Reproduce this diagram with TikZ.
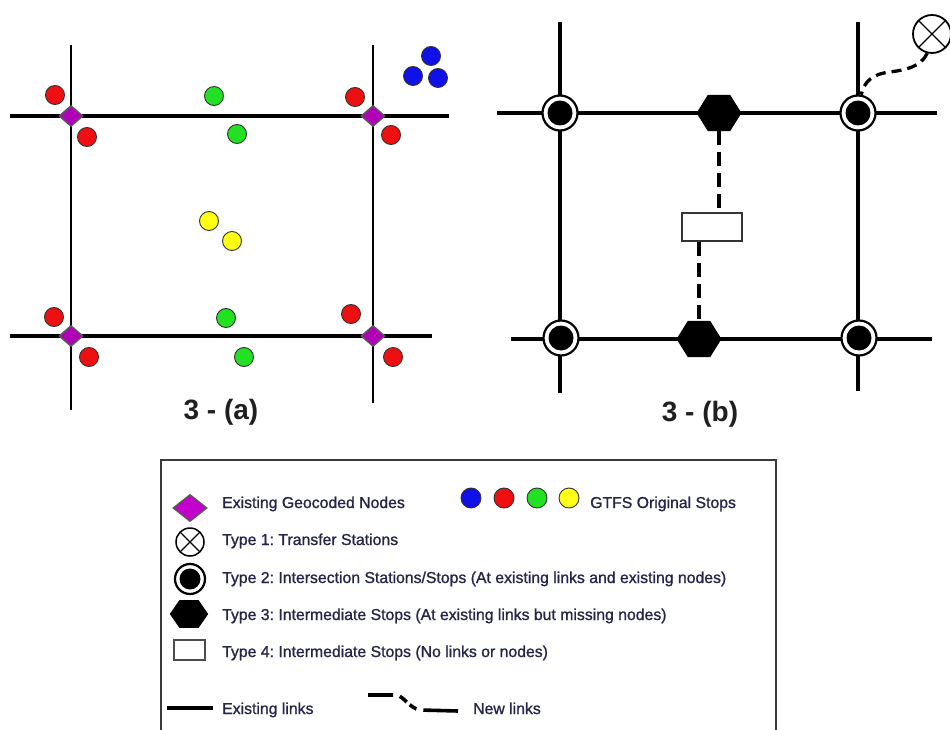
\documentclass[tikz,border=0pt]{standalone}
\usepackage{fontspec}
\setmainfont{Liberation Sans}
\newfontfamily\legfont{Liberation Sans}[FakeBold=1.1]
\usetikzlibrary{shapes.geometric}
\frenchspacing

\definecolor{txt}{HTML}{25254A}
\definecolor{gnode}{HTML}{B000B8}
\definecolor{gnodeL}{HTML}{C400CC}
\definecolor{sblue}{HTML}{1010E8}
\definecolor{sred}{HTML}{EE1010}
\definecolor{sgreen}{HTML}{22E022}
\definecolor{syellow}{HTML}{FFFF14}
\definecolor{frame}{HTML}{3A3A3A}

\tikzset{
  road/.style={line width=4pt, black},
  street/.style={line width=2.4pt, black},
  roadb/.style={line width=4.8pt, black},
  streetb/.style={line width=3.4pt, black},
  gstop/.style={circle, draw=black!80, line width=0.9pt, minimum size=19pt, inner sep=0pt},
  geonode/.style={diamond, draw=black!65, line width=1.4pt, fill=gnode, aspect=1.15,
    minimum width=24pt, minimum height=21pt, inner sep=0pt},
  type1/.style={circle, draw=black, line width=1.8pt, fill=white, inner sep=0pt,
    path picture={\draw[line width=1.2pt]
      (path picture bounding box.north west) -- (path picture bounding box.south east)
      (path picture bounding box.north east) -- (path picture bounding box.south west);}},
  type2/.style={circle, draw=black, line width=2.2pt, fill=white, inner sep=0pt,
    path picture={\fill[black] (path picture bounding box.center) circle (#1);}},
  type3/.style={regular polygon, regular polygon sides=6, fill=black, inner sep=0pt},
  type4/.style={rectangle, draw=black!80, line width=1.8pt, fill=white, inner sep=0pt},
  newlink/.style={line width=3.8pt, black, dash pattern=on 14pt off 7pt},
  newcurve/.style={line width=3.3pt, black, dash pattern=on 10pt off 6pt},
  legtext/.style={anchor=base west, text=txt, inner sep=0pt,
    font=\legfont\fontsize{15.8}{18}\selectfont},
  panellabel/.style={anchor=base, text=black!88, inner sep=0pt,
    font=\bfseries\fontsize{28}{32}\selectfont},
}

\begin{document}
\begin{tikzpicture}[x=1pt,y=-1pt]
\clip (0,0) rectangle (950,730);
\fill[white] (0,0) rectangle (950,730);

% ---------------- panel (a): road grid with geocoded nodes ----------------
\coordinate (aT1) at (10,116);  \coordinate (aT2) at (449,116);
\coordinate (aB1) at (10,336);  \coordinate (aB2) at (432,336);
\coordinate (aL1) at (71,45);   \coordinate (aL2) at (71,410);
\coordinate (aR1) at (373,45);  \coordinate (aR2) at (373,403);
\draw[street] (aL1) -- (aL2);
\draw[street] (aR1) -- (aR2);
\draw[road] (aT1) -- (aT2);
\draw[road] (aB1) -- (aB2);

\node[geonode] (gtl) at (71,116) {};
\node[geonode] (gtr) at (373,116) {};
\node[geonode] (gbl) at (71,336) {};
\node[geonode] (gbr) at (373,336) {};

% original GTFS stops
\node[gstop, fill=sred] (r1) at (55,95) {};
\node[gstop, fill=sred] (r2) at (87,137) {};
\node[gstop, fill=sred] (r3) at (355,97) {};
\node[gstop, fill=sred] (r4) at (391,135) {};
\node[gstop, fill=sred] (r5) at (54,317) {};
\node[gstop, fill=sred] (r6) at (89,357) {};
\node[gstop, fill=sred] (r7) at (351,314) {};
\node[gstop, fill=sred] (r8) at (393,357) {};
\node[gstop, fill=sgreen] (g1) at (214,96) {};
\node[gstop, fill=sgreen] (g2) at (237,134) {};
\node[gstop, fill=sgreen] (g3) at (226,318) {};
\node[gstop, fill=sgreen] (g4) at (244,357) {};
\node[gstop, fill=syellow] (y1) at (209,221) {};
\node[gstop, fill=syellow] (y2) at (232,241) {};
\node[gstop, fill=sblue] (b1) at (431,56) {};
\node[gstop, fill=sblue] (b2) at (413,76) {};
\node[gstop, fill=sblue] (b3) at (438,78) {};

\node[panellabel] (la) at (221,419) {3 - (a)};

% ---------------- panel (b): classified stations ----------------
\coordinate (bT1) at (497,113); \coordinate (bT2) at (937,113);
\coordinate (bB1) at (511,339); \coordinate (bB2) at (932,339);
\coordinate (bL1) at (560,22);  \coordinate (bL2) at (560,393);
\coordinate (bR1) at (858,22);  \coordinate (bR2) at (858,391);
\draw[streetb] (bL1) -- (bL2);
\draw[streetb] (bR1) -- (bR2);
\draw[roadb] (bT1) -- (bT2);
\draw[roadb] (bB1) -- (bB2);

\node[type2=12.5pt, minimum size=35pt] (ctl) at (560,113) {};
\node[type2=12.5pt, minimum size=35pt] (ctr) at (858,113) {};
\node[type2=12.5pt, minimum size=35pt] (cbl) at (561,338) {};
\node[type2=12.5pt, minimum size=35pt] (cbr) at (859,338) {};

\begin{scope}[shift={(719,113)}]
  \node[type3, minimum size=41.6pt, xscale=1.08] (h1) at (0,0) {};
\end{scope}
\begin{scope}[shift={(699,339)}]
  \node[type3, minimum size=41.6pt, xscale=1.08] (h2) at (0,0) {};
\end{scope}

\node[type4, minimum width=60pt, minimum height=28pt] (q1) at (712,227) {};

\draw[newlink] (h1.south) -- (h1.south |- q1.north);
\draw[newlink] (h2.north |- q1.south) -- (h2.north);

\node[type1, minimum size=38pt] (x1) at (932,34) {};
\draw[newcurve] (x1.256) .. controls (921,67) and (905,70) .. (890,72)
  .. controls (872,74) and (864,82) .. (ctr.80);

\node[panellabel] (lb) at (700,421) {3 - (b)};

% ---------------- legend ----------------
\draw[frame, line width=1.5pt] (161,745) -- (161,460) -- (776,460) -- (776,745);

\node[geonode, fill=gnodeL, aspect=1.3, minimum width=34pt, minimum height=27pt] (k1) at (190,508) {};
\node[legtext] (t1) at (222,508) {Existing Geocoded Nodes};

\node[gstop, fill=sblue, minimum size=20pt] (k2) at (471,498) {};
\node[gstop, fill=sred, minimum size=20pt] (k3) at (504,498) {};
\node[gstop, fill=sgreen, minimum size=20pt] (k4) at (537,498) {};
\node[gstop, fill=syellow, minimum size=20pt] (k5) at (569,498) {};
\node[legtext] (t2) at (590,508) {GTFS Original Stops};

\node[type1, minimum size=28pt, line width=1.5pt] (k6) at (190,542) {};
\node[legtext] (t3) at (222,545) {Type 1: Transfer Stations};

\node[type2=10.5pt, minimum size=30pt] (k7) at (190,579) {};
\node[legtext] (t4) at (222,583) {Type 2: Intersection Stations/Stops (At existing links and existing nodes)};

\begin{scope}[shift={(189,614)}]
  \node[type3, minimum size=32pt, xscale=1.2] (k8) at (0,0) {};
\end{scope}
\node[legtext] (t5) at (222,620) {Type 3: Intermediate Stops (At existing links but missing nodes)};

\node[type4, minimum width=31pt, minimum height=20pt, draw=black!70, line width=2pt] (k9) at (189,650) {};
\node[legtext] (t6) at (222,657) {Type 4: Intermediate Stops (No links or nodes)};

\coordinate (e1) at (167,708); \coordinate (e2) at (213,708);
\draw[road] (e1) -- (e2);
\node[legtext] (t7) at (222,714) {Existing links};

\coordinate (n1) at (368,695); \coordinate (n2) at (458,711);
\draw[line width=3.6pt, black, dash pattern=on 25pt off 7pt on 9pt off 4pt on 8pt off 7pt on 40pt]
  (n1) -- (396,695) .. controls (404,696) and (409,708) .. (420,710) -- (n2);
\node[legtext] (t8) at (473,714) {New links};
\end{tikzpicture}
\end{document}
